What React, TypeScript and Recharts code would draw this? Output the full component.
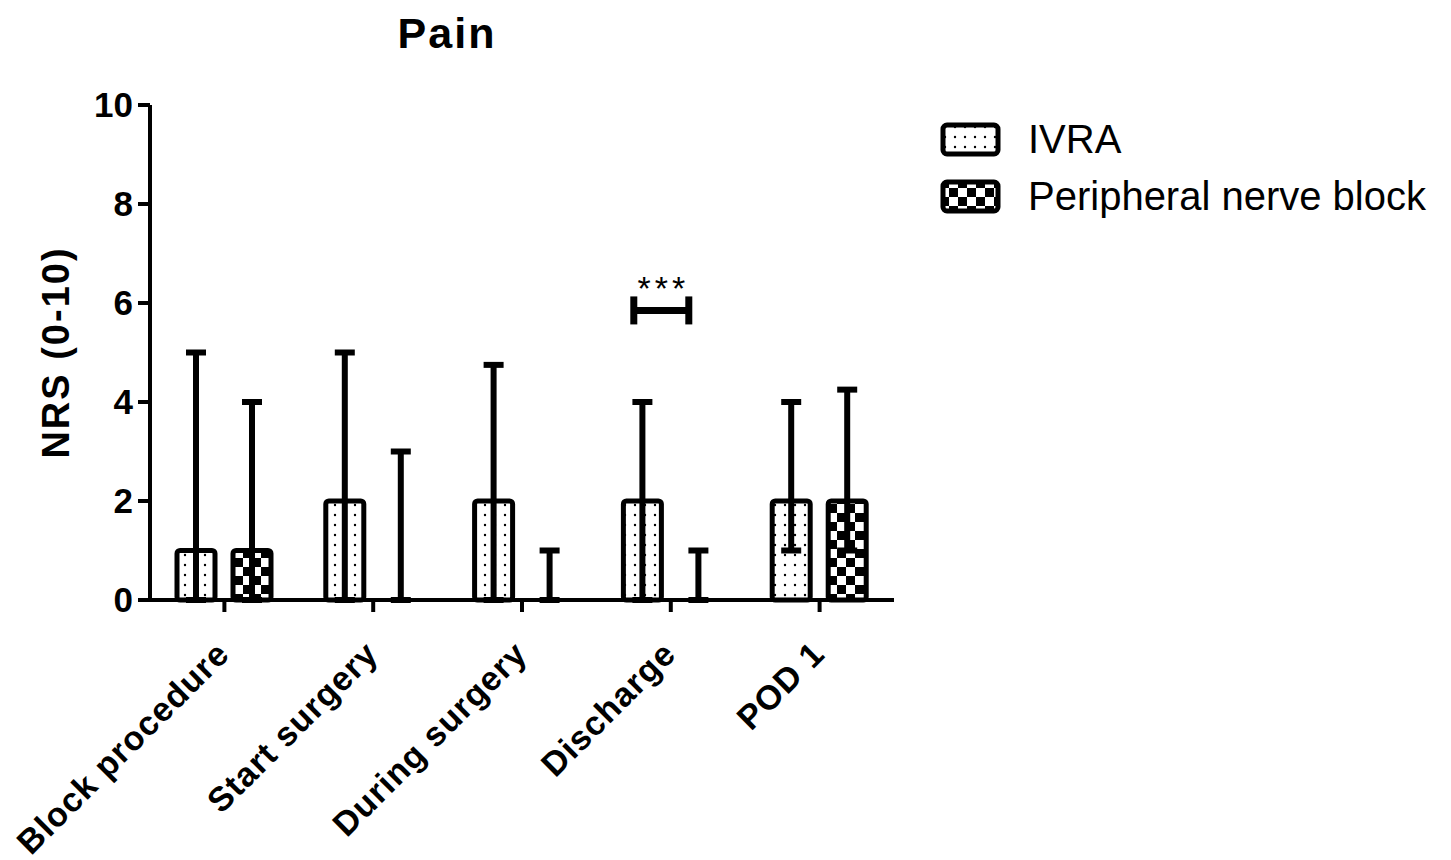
import React from "react";
import {
  ComposedChart,
  Bar,
  XAxis,
  YAxis,
  ErrorBar,
  Legend,
  ReferenceDot,
  Rectangle,
} from "recharts";

const categories = ["Block procedure", "Start surgery", "During surgery", "Discharge", "POD 1"];

// median with interquartile range
const ivraMedian = [1, 2, 2, 2, 2];
const ivraLow = [0, 0, 0, 0, 1];
const ivraHigh = [5, 5, 4.75, 4, 4];

const pnbMedian = [1, 0, 0, 0, 2];
const pnbLow = [0, 0, 0, 0, 1];
const pnbHigh = [4, 3, 1, 1, 4.25];

const yTicks = [0, 2, 4, 6, 8, 10];

const bracketCategory = "Discharge";
const bracketY = 5.85;
const bracketLabel = "***";

const seriesNames = ["IVRA", "Peripheral nerve block"];
const seriesFills = ["url(#ivraDots)", "url(#pnbChecker)"];

const data = categories.map((name, i) => ({
  name,
  ivra: ivraMedian[i],
  ivraErr: [ivraMedian[i] - ivraLow[i], ivraHigh[i] - ivraMedian[i]],
  pnb: pnbMedian[i],
  pnbErr: [pnbMedian[i] - pnbLow[i], pnbHigh[i] - pnbMedian[i]],
}));

const FONT = "'Liberation Sans', Arial, Helvetica, sans-serif";

// zero-valued bars keep their error bar but draw no box
const BarShape = (props: any) => {
  if (Math.abs(props.height) < 2) return <g />;
  return <Rectangle {...props} />;
};

const XTick = (props: any) => {
  const { x, y, payload } = props;
  const ax = x + 7;
  const ay = y + 42;
  return (
    <text
      x={ax}
      y={ay}
      transform={`rotate(-45, ${ax}, ${ay})`}
      textAnchor="end"
      fontFamily={FONT}
      fontWeight="bold"
      fontSize={34}
      letterSpacing={1}
      fill="#000"
    >
      {payload.value}
    </text>
  );
};

const Bracket = (props: any) => {
  const { cx, cy } = props;
  if (cx == null || cy == null) return null;
  const left = cx - 37;
  const right = cx + 18;
  return (
    <g>
      <line x1={left} y1={cy} x2={right} y2={cy} stroke="#000" strokeWidth={7} />
      <line x1={left} y1={cy - 14} x2={left} y2={cy + 14} stroke="#000" strokeWidth={7} />
      <line x1={right} y1={cy - 14} x2={right} y2={cy + 14} stroke="#000" strokeWidth={7} />
      <text
        x={(left + right) / 2 + 2}
        y={cy - 10}
        textAnchor="middle"
        fontFamily={FONT}
        fontSize={34}
        letterSpacing={4}
        fill="#000"
      >
        {bracketLabel}
      </text>
    </g>
  );
};

const renderLegend = () => (
  <div style={{ display: "flex", flexDirection: "column" }}>
    {seriesNames.map((name, i) => (
      <div key={name} style={{ display: "flex", alignItems: "center", height: 57 }}>
        <svg width={62} height={36} style={{ display: "block" }}>
          <rect
            x={3}
            y={3}
            width={55}
            height={29}
            rx={4}
            fill={seriesFills[i]}
            stroke="#000"
            strokeWidth={5}
          />
        </svg>
        <span
          style={{
            marginLeft: 26,
            fontFamily: FONT,
            fontSize: 40,
            color: "#000",
            whiteSpace: "nowrap",
          }}
        >
          {name}
        </span>
      </div>
    ))}
  </div>
);

export default function App() {
  return (
    <div style={{ position: "absolute", left: 0, top: 0, width: 1451, height: 860, background: "#fff" }}>
      <div
        style={{
          position: "absolute",
          left: 0,
          top: 9,
          width: 894,
          textAlign: "center",
          fontFamily: FONT,
          fontWeight: "bold",
          fontSize: 43,
          lineHeight: "48px",
          letterSpacing: 2,
        }}
      >
        Pain
      </div>
      <ComposedChart
        width={1451}
        height={860}
        data={data}
        margin={{ top: 105, right: 557, bottom: 0, left: 0 }}
        barSize={38}
        barGap={18}
      >
        <defs>
          <pattern id="ivraDots" width={10} height={10} patternUnits="userSpaceOnUse">
            <rect width={10} height={10} fill="#fff" />
            <circle cx={5} cy={5} r={1.2} fill="#000" />
          </pattern>
          <pattern id="pnbChecker" width={18} height={18} patternUnits="userSpaceOnUse">
            <rect width={18} height={18} fill="#fff" />
            <rect width={9} height={9} fill="#000" />
            <rect x={9} y={9} width={9} height={9} fill="#000" />
          </pattern>
        </defs>
        <XAxis
          dataKey="name"
          interval={0}
          height={260}
          tickSize={12}
          axisLine={{ stroke: "#000", strokeWidth: 4 }}
          tickLine={{ stroke: "#000", strokeWidth: 4 }}
          tick={<XTick />}
        />
        <YAxis
          domain={[0, 10]}
          ticks={yTicks}
          width={150}
          tickSize={12}
          tickMargin={5}
          axisLine={{ stroke: "#000", strokeWidth: 4 }}
          tickLine={{ stroke: "#000", strokeWidth: 4 }}
          tick={{ fill: "#000", fontSize: 35, fontWeight: "bold", fontFamily: FONT }}
          label={{
            content: (p: any) => {
              const vb = p.viewBox;
              const lx = vb.x + 56;
              const ly = vb.y + vb.height / 2;
              return (
                <text
                  x={lx}
                  y={ly}
                  transform={`rotate(-90, ${lx}, ${ly})`}
                  textAnchor="middle"
                  dominantBaseline="central"
                  fontFamily={FONT}
                  fontWeight="bold"
                  fontSize={38}
                  letterSpacing={2}
                  fill="#000"
                >
                  NRS (0-10)
                </text>
              );
            },
          }}
        />
        <Legend
          layout="vertical"
          align="center"
          verticalAlign="middle"
          content={renderLegend}
          wrapperStyle={{ left: 940, top: 111, width: 500 }}
        />
        <Bar
          dataKey="ivra"
          name={seriesNames[0]}
          fill={seriesFills[0]}
          stroke="#000"
          strokeWidth={5}
          radius={3}
          minPointSize={1}
          shape={BarShape}
          isAnimationActive={false}
        >
          <ErrorBar dataKey="ivraErr" direction="y" width={10} stroke="#000" strokeWidth={6} isAnimationActive={false} />
        </Bar>
        <Bar
          dataKey="pnb"
          name={seriesNames[1]}
          fill={seriesFills[1]}
          stroke="#000"
          strokeWidth={5}
          radius={3}
          minPointSize={1}
          shape={BarShape}
          isAnimationActive={false}
        >
          <ErrorBar dataKey="pnbErr" direction="y" width={10} stroke="#000" strokeWidth={6} isAnimationActive={false} />
        </Bar>
        <ReferenceDot x={bracketCategory} y={bracketY} r={0} shape={(p: any) => <Bracket {...p} />} />
      </ComposedChart>
    </div>
  );
}
